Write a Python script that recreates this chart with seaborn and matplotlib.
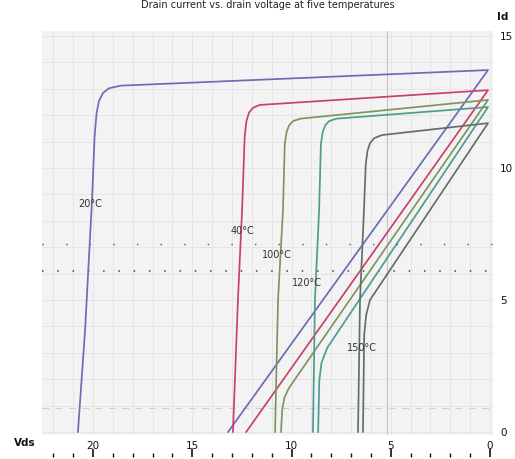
import numpy as np
import pandas as pd
import matplotlib
matplotlib.use("Agg")
import matplotlib.pyplot as plt
from matplotlib.ticker import MultipleLocator, NullFormatter
import seaborn as sns

# Temperature labels and trace colours
temps = ["20°C", "40°C", "100°C", "120°C", "150°C"]
colors = ["#6c6cb4", "#c8416d", "#7d9660", "#4e9c90", "#5f7268"]

# Traces: forward sweep rises, saturates, then returns along the diagonal
vds_20 = [20.76, 20.40, 20.05, 19.92, 19.82, 19.70, 19.50, 19.20, 18.60, 0.10, 13.20]
id_20 = [0.00, 3.86, 8.79, 11.20, 12.08, 12.54, 12.84, 13.02, 13.12, 13.71, 0.00]

vds_40 = [12.95, 12.70, 12.49, 12.36, 12.27, 12.14, 11.94, 11.60, 0.10, 12.29]
id_40 = [0.00, 5.00, 8.41, 11.20, 11.78, 12.10, 12.28, 12.39, 12.95, 0.00]

vds_100 = [10.83, 10.68, 10.43, 10.34, 10.25, 10.12, 9.92, 9.55, 0.10,
           10.13, 10.36, 10.47, 10.53]
id_100 = [0.00, 5.00, 8.41, 10.90, 11.36, 11.62, 11.78, 11.87, 12.58,
          1.67, 1.30, 0.85, 0.00]

vds_120 = [8.92, 8.82, 8.61, 8.52, 8.43, 8.30, 8.10, 7.74, 0.10,
           8.21, 8.49, 8.60, 8.66]
id_120 = [0.00, 5.00, 8.41, 10.90, 11.36, 11.62, 11.78, 11.87, 12.31,
          3.18, 2.62, 1.95, 0.00]

vds_150 = [6.65, 6.55, 6.35, 6.26, 6.17, 6.04, 5.84, 5.44, 0.10,
           6.05, 6.24, 6.34, 6.40]
id_150 = [0.00, 5.00, 8.41, 10.15, 10.66, 10.95, 11.13, 11.25, 11.70,
          5.00, 4.43, 3.67, 0.00]

# Label anchor positions (Vds, Id)
label_x = [20.15, 12.49, 10.73, 9.22, 6.45]
label_y = [8.64, 7.61, 6.70, 5.63, 3.20]

x_ticks = [20, 15, 10, 5, 0]
y_ticks = [0, 5, 10, 15]

series = [(vds_20, id_20), (vds_40, id_40), (vds_100, id_100),
          (vds_120, id_120), (vds_150, id_150)]
frames = []
for t, (xs, ys) in zip(temps, series):
    frames.append(pd.DataFrame({"vds": xs, "id": ys, "temp": t,
                                "order": np.arange(len(xs))}))
df = pd.concat(frames, ignore_index=True)

sns.set_style("white")
plt.rcParams["font.family"] = ["DejaVu Sans"]

fig = plt.figure(figsize=(5.15, 4.59), dpi=100)
ax = fig.add_axes([42 / 515, 1 - 435 / 459, 451 / 515, 404 / 459])

ax.set_facecolor("#f3f3f3")
ax.set_xlim(22.57, -0.15)
ax.set_ylim(-0.11, 15.19)

ax.xaxis.set_major_locator(MultipleLocator(5))
ax.xaxis.set_minor_locator(MultipleLocator(1))
ax.yaxis.set_major_locator(MultipleLocator(5))
ax.yaxis.set_minor_locator(MultipleLocator(1))
ax.grid(True, which="both", color="#e3e3e3", lw=0.6)
ax.set_axisbelow(True)

# Reference guides
ax.axvline(5.2, color="#c9c9c9", lw=0.9, zorder=1)
ax.axhline(0.91, color="#cfcfcf", lw=0.8, ls=(0, (6, 6)), zorder=1)
ax.axhline(6.09, color="#444444", lw=1.1, ls=(0, (1, 9)), zorder=1)
ax.axhline(7.12, color="#555555", lw=1.0, ls=(0, (1, 16)), zorder=1)

sns.lineplot(data=df, x="vds", y="id", hue="temp", units="temp",
             estimator=None, sort=False, palette=dict(zip(temps, colors)),
             hue_order=temps, legend=False, lw=1.25, ax=ax)

for t, lx, ly in zip(temps, label_x, label_y):
    ax.text(lx, ly, t, fontsize=7, color="#333333", ha="center", va="center",
            zorder=5)

for s in ax.spines.values():
    s.set_visible(False)

ax.set_xticks(x_ticks)
ax.set_xticklabels([str(v) for v in x_ticks])
ax.set_yticks(y_ticks)
ax.set_yticklabels([str(v) for v in y_ticks])
ax.yaxis.tick_right()
ax.tick_params(axis="x", which="both", length=0, pad=4, labelsize=7.5,
               labelcolor="#111111")
ax.tick_params(axis="y", which="both", length=0, pad=5, labelsize=7.5,
               labelcolor="#111111")
ax.set_xlabel("")
ax.set_ylabel("")

# Tick strip below the value labels
sec = ax.secondary_xaxis(-0.055)
sec.xaxis.set_major_locator(MultipleLocator(5))
sec.xaxis.set_minor_locator(MultipleLocator(1))
sec.xaxis.set_major_formatter(NullFormatter())
sec.tick_params(which="major", direction="in", length=6, width=1.2, color="#111111")
sec.tick_params(which="minor", direction="in", length=3, width=1.0, color="#111111")
sec.spines["bottom"].set_visible(False)

fig.text(25 / 515, 1 - 443 / 459, "Vds", fontsize=7.5, fontweight="bold",
         ha="center", va="center", color="#111111")
fig.text(503 / 515, 1 - 17 / 459, "Id", fontsize=7.5, fontweight="bold",
         ha="center", va="center", color="#111111")
fig.text(0.52, 0.999, "Drain current vs. drain voltage at five temperatures",
         fontsize=7, ha="center", va="top", color="#222222")

fig.savefig("out.png", dpi=100)
